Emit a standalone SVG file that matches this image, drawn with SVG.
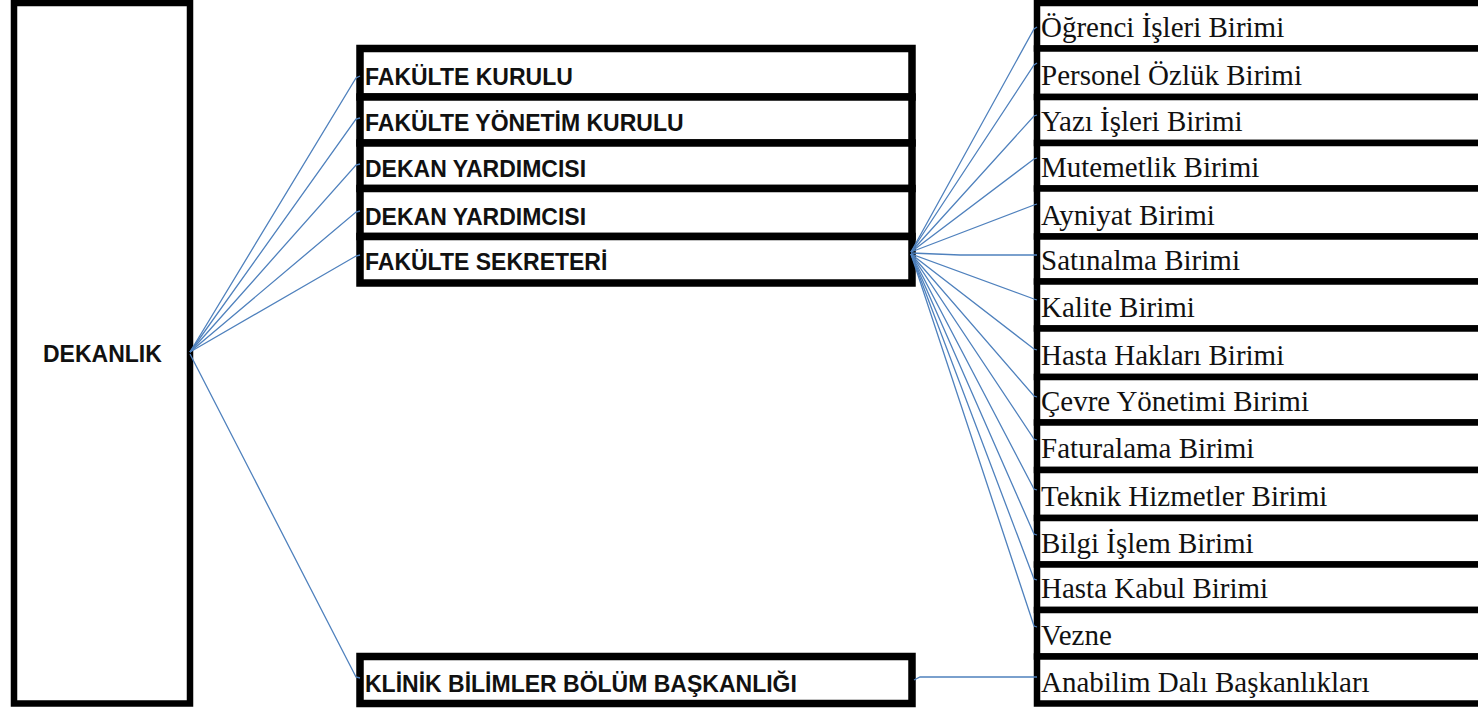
<svg xmlns="http://www.w3.org/2000/svg" width="1478" height="708" viewBox="0 0 1478 708">
<style>
.box{fill:#fff;stroke:#000;stroke-width:6.5}
.mbox{fill:#fff;stroke:#000;stroke-width:7.5}
.sans{font-family:"Liberation Sans",Arial,sans-serif;font-weight:bold;font-size:23px;fill:#111}
.serif{font-family:"Liberation Serif","Times New Roman",serif;font-size:29px;fill:#111}
.conn{fill:none;stroke:#4f81bd;stroke-width:1.3}
</style>
<rect width="1478" height="708" fill="#fff"/>
<g id="dekanlik">
<rect class="box" x="14" y="3" width="176" height="700.5"/>
<text class="sans" x="43" y="362">DEKANLIK</text>
</g>
<g id="middle">
<g id="fakulte-kurulu"><rect class="mbox" x="360" y="48.5" width="552" height="48.5"/><text class="sans" x="365" y="85">FAKÜLTE KURULU</text></g>
<g id="fakulte-yonetim-kurulu"><rect class="mbox" x="360" y="97" width="552" height="46"/><text class="sans" x="365" y="131">FAKÜLTE YÖNETİM KURULU</text></g>
<g id="dekan-yardimcisi-1"><rect class="mbox" x="360" y="143" width="552" height="45.5"/><text class="sans" x="365" y="176.5">DEKAN YARDIMCISI</text></g>
<g id="dekan-yardimcisi-2"><rect class="mbox" x="360" y="188.5" width="552" height="48"/><text class="sans" x="365" y="224.5">DEKAN YARDIMCISI</text></g>
<g id="fakulte-sekreteri"><rect class="mbox" x="360" y="236.5" width="552" height="46.5"/><text class="sans" x="365" y="270">FAKÜLTE SEKRETERİ</text></g>
</g>
<g id="klinik"><rect class="mbox" x="360" y="656.5" width="552" height="47"/><text class="sans" x="365" y="692">KLİNİK BİLİMLER BÖLÜM BAŞKANLIĞI</text></g>
<g id="right">
<g id="r1"><rect class="box" x="1037" y="3" width="470" height="45.5"/><text class="serif" x="1041" y="36.5">Öğrenci İşleri Birimi</text></g>
<g id="r2"><rect class="box" x="1037" y="48.5" width="470" height="48.5"/><text class="serif" x="1041" y="85">Personel Özlük Birimi</text></g>
<g id="r3"><rect class="box" x="1037" y="97" width="470" height="46"/><text class="serif" x="1041" y="131">Yazı İşleri Birimi</text></g>
<g id="r4"><rect class="box" x="1037" y="143" width="470" height="45.5"/><text class="serif" x="1041" y="176.5">Mutemetlik Birimi</text></g>
<g id="r5"><rect class="box" x="1037" y="188.5" width="470" height="48"/><text class="serif" x="1041" y="224.5">Ayniyat Birimi</text></g>
<g id="r6"><rect class="box" x="1037" y="236.5" width="470" height="45"/><text class="serif" x="1041" y="269.5">Satınalma Birimi</text></g>
<g id="r7"><rect class="box" x="1037" y="281.5" width="470" height="47"/><text class="serif" x="1041" y="316.5">Kalite Birimi</text></g>
<g id="r8"><rect class="box" x="1037" y="328.5" width="470" height="48.5"/><text class="serif" x="1041" y="365">Hasta Hakları Birimi</text></g>
<g id="r9"><rect class="box" x="1037" y="377" width="470" height="45.5"/><text class="serif" x="1041" y="410.5">Çevre Yönetimi Birimi</text></g>
<g id="r10"><rect class="box" x="1037" y="422.5" width="470" height="47.5"/><text class="serif" x="1041" y="458">Faturalama Birimi</text></g>
<g id="r11"><rect class="box" x="1037" y="470" width="470" height="48"/><text class="serif" x="1041" y="506">Teknik Hizmetler Birimi</text></g>
<g id="r12"><rect class="box" x="1037" y="518" width="470" height="46.5"/><text class="serif" x="1041" y="552.5">Bilgi İşlem Birimi</text></g>
<g id="r13"><rect class="box" x="1037" y="564.5" width="470" height="45.5"/><text class="serif" x="1041" y="598">Hasta Kabul Birimi</text></g>
<g id="r14"><rect class="box" x="1037" y="610" width="470" height="46.5"/><text class="serif" x="1041" y="644.5">Vezne</text></g>
<g id="r15"><rect class="box" x="1037" y="656.5" width="470" height="47"/><text class="serif" x="1041" y="691.5">Anabilim Dalı Başkanlıkları</text></g>
</g>
<g id="connectors">
<path class="conn" d="M190,352 L356,78 L360,76"/>
<path class="conn" d="M190,352 L356,119 L360,118"/>
<path class="conn" d="M190,352 L356,165 L360,164"/>
<path class="conn" d="M190,352 L356,212 L360,211"/>
<path class="conn" d="M190,352 L356,256 L360,255"/>
<path class="conn" d="M190,354 L356,677 L360,678"/>
<path class="conn" d="M911,252 L1034,29 L1037,27"/>
<path class="conn" d="M911,252 L1034,65 L1037,63"/>
<path class="conn" d="M911,252 L1034,116 L1037,115"/>
<path class="conn" d="M911,252 L1034,159 L1037,158"/>
<path class="conn" d="M911,252 L1034,205 L1037,204"/>
<path class="conn" d="M911,253 L960,255 L1037,255"/>
<path class="conn" d="M911,254 L1034,299 L1037,300"/>
<path class="conn" d="M911,254 L1034,349 L1037,350"/>
<path class="conn" d="M911,254 L1034,396 L1037,397"/>
<path class="conn" d="M911,254 L1034,439 L1037,440"/>
<path class="conn" d="M911,254 L1034,489 L1037,490"/>
<path class="conn" d="M911,254 L1034,534 L1037,535"/>
<path class="conn" d="M911,254 L1034,579 L1037,580"/>
<path class="conn" d="M911,254 L1034,626 L1037,627"/>
<path class="conn" d="M914,680 L920,677 L1037,677"/>
</g>
</svg>
